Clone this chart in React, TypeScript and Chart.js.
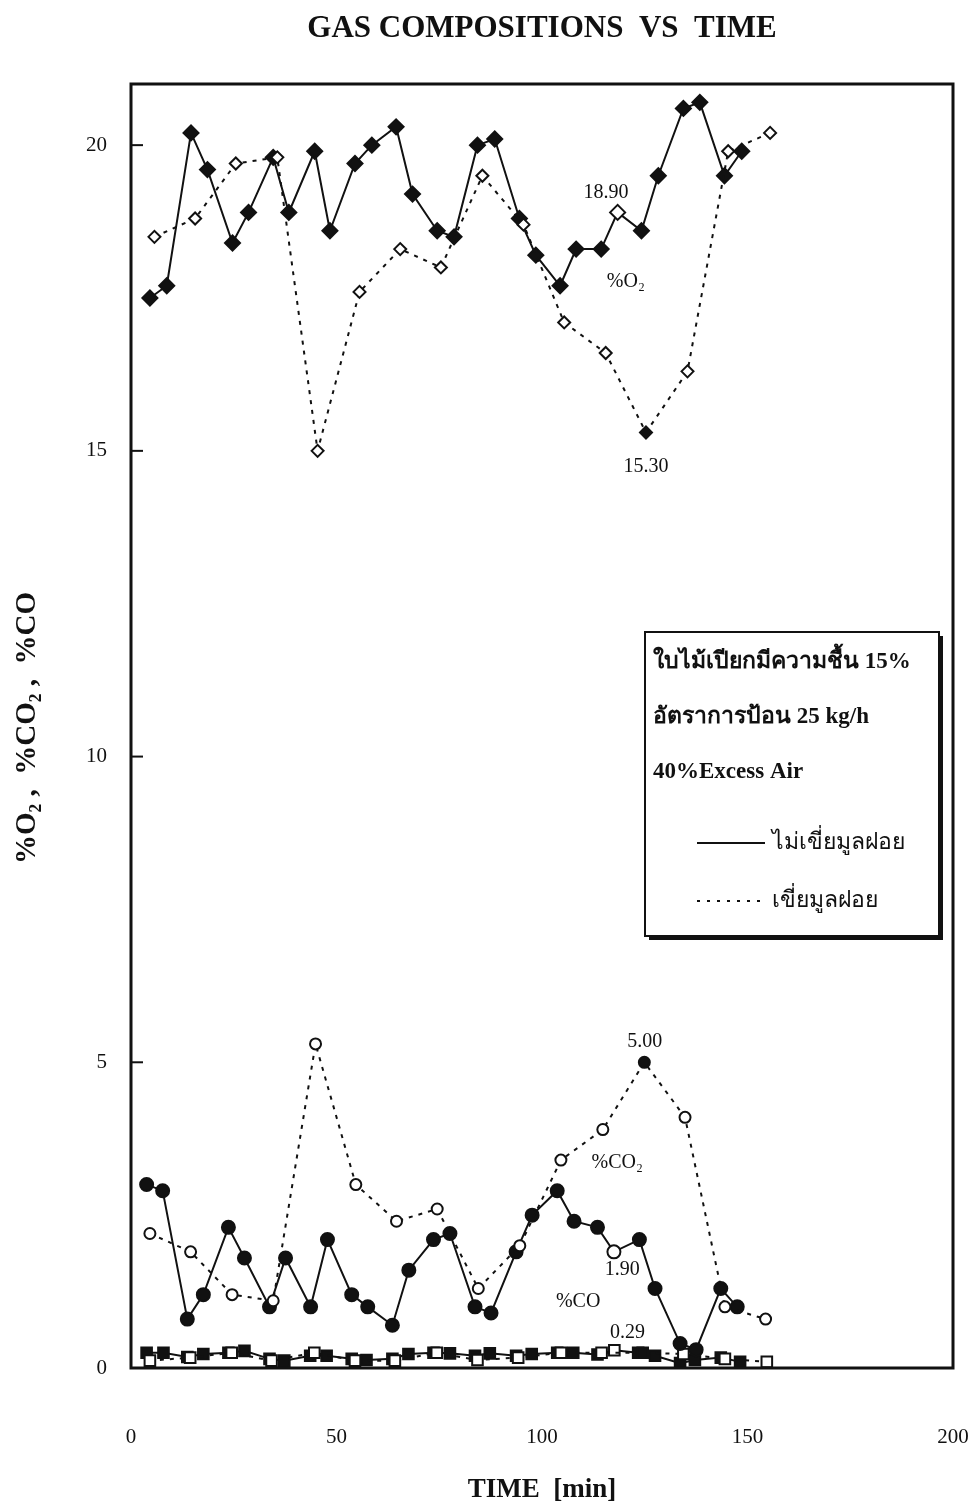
import React, { useEffect, useRef } from "react";
import { Chart, registerables } from "chart.js";

Chart.register(...registerables);

// ---------- data (time in min, composition in %) ----------
const xTicks = [0, 50, 100, 150, 200];
const yTicks = [0, 5, 10, 15, 20];

const o2SolidTime = [4.6, 8.7, 14.6, 18.6, 24.7, 28.6, 34.6, 38.4, 44.7, 48.4, 54.5, 58.6, 64.5, 68.5, 74.5, 78.6, 84.3, 88.5, 94.5, 98.5, 104.4, 108.3, 114.4, 118.4, 124.2, 128.3, 134.4, 138.4, 144.4, 148.6];
const o2Solid = [17.5, 17.7, 20.2, 19.6, 18.4, 18.9, 19.8, 18.9, 19.9, 18.6, 19.7, 20.0, 20.3, 19.2, 18.6, 18.5, 20.0, 20.1, 18.8, 18.2, 17.7, 18.3, 18.3, 18.9, 18.6, 19.5, 20.6, 20.7, 19.5, 19.9];

const o2DottedTime = [5.7, 15.6, 25.5, 35.6, 45.4, 55.6, 65.5, 75.4, 85.5, 95.5, 105.4, 115.5, 125.3, 135.4, 145.3, 155.5];
const o2Dotted = [18.5, 18.8, 19.7, 19.8, 15.0, 17.6, 18.3, 18.0, 19.5, 18.7, 17.1, 16.6, 15.3, 16.3, 19.9, 20.2];

const co2SolidTime = [3.8, 7.7, 13.7, 17.6, 23.7, 27.6, 33.7, 37.6, 43.7, 47.8, 53.7, 57.6, 63.6, 67.6, 73.6, 77.6, 83.7, 87.6, 93.7, 97.6, 103.7, 107.8, 113.5, 117.5, 123.7, 127.5, 133.6, 137.5, 143.5, 147.5];
const co2Solid = [3.0, 2.9, 0.8, 1.2, 2.3, 1.8, 1.0, 1.8, 1.0, 2.1, 1.2, 1.0, 0.7, 1.6, 2.1, 2.2, 1.0, 0.9, 1.9, 2.5, 2.9, 2.4, 2.3, 1.9, 2.1, 1.3, 0.4, 0.3, 1.3, 1.0];

const co2DottedTime = [4.6, 14.5, 24.6, 34.6, 44.9, 54.7, 64.6, 74.5, 84.5, 94.6, 104.6, 114.8, 124.9, 134.8, 144.5, 154.4];
const co2Dotted = [2.2, 1.9, 1.2, 1.1, 5.3, 3.0, 2.4, 2.6, 1.3, 2.0, 3.4, 3.9, 5.0, 4.1, 1.0, 0.8];

const coSolidTime = [3.8, 7.9, 13.7, 17.6, 23.7, 27.6, 33.7, 37.3, 43.6, 47.6, 53.7, 57.3, 63.6, 67.5, 73.6, 77.6, 83.7, 87.3, 93.7, 97.5, 103.7, 107.6, 113.5, 117.6, 123.4, 127.5, 133.6, 137.2, 143.5, 148.2];
const coSolid = [0.25, 0.25, 0.18, 0.23, 0.25, 0.28, 0.15, 0.12, 0.2, 0.2, 0.15, 0.13, 0.15, 0.23, 0.25, 0.24, 0.2, 0.24, 0.2, 0.23, 0.25, 0.25, 0.22, 0.29, 0.25, 0.2, 0.08, 0.13, 0.17, 0.1];

const coDottedTime = [4.6, 14.4, 24.5, 34.2, 44.6, 54.5, 64.2, 74.4, 84.3, 94.2, 104.6, 114.5, 124.5, 134.4, 144.5, 154.7];
const coDotted = [0.12, 0.17, 0.25, 0.12, 0.25, 0.12, 0.12, 0.25, 0.13, 0.17, 0.25, 0.25, 0.25, 0.23, 0.15, 0.1];

// highlighted points (marker fill swapped)
const solidHighlight = 23;
const dottedHighlight = 12;

// in-plot text labels: [text, time, value]
const noteText = ["18.90", "%O₂", "15.30", "5.00", "%CO₂", "1.90", "%CO", "0.29"];
const noteTime = [115.6, 120.4, 125.3, 125.0, 118.3, 119.5, 108.8, 120.8];
const noteValue = [19.22, 17.76, 14.74, 5.34, 3.35, 1.60, 1.08, 0.57];

const titleText = "GAS COMPOSITIONS  VS  TIME";
const xTitle = "TIME  [min]";
const yTitle = "%O₂ ,  %CO₂ ,  %CO";
const legendLines = ["ใบไม้เปียกมีความชื้น 15%", "อัตราการป้อน 25 kg/h", "40%Excess Air"];
const seriesNames = ["ไม่เขี่ยมูลฝอย", "เขี่ยมูลฝอย"];

const INK = "#111";
const SERIF = '"Liberation Serif", "Times New Roman", serif';

function pts(xs: number[], ys: number[]) {
  return xs.map((x, i) => ({ x, y: ys[i] }));
}
function fills(n: number, special: number, filled: boolean) {
  return Array.from({ length: n }, (_, i) => ((i === special) !== filled ? INK : "#fff"));
}

export default function App() {
  const ref = useRef<HTMLCanvasElement>(null);

  useEffect(() => {
    const canvas = ref.current!;

    const solid = (label: string, xs: number[], ys: number[], style: string, r: number) => ({
      label,
      data: pts(xs, ys),
      showLine: true,
      borderColor: INK,
      borderWidth: 2,
      tension: 0,
      pointStyle: style,
      pointRadius: r,
      pointBorderWidth: 2,
      pointBorderColor: INK,
      pointBackgroundColor: fills(xs.length, solidHighlight, true),
    });
    const dotted = (label: string, xs: number[], ys: number[], style: string, r: number) => ({
      label,
      data: pts(xs, ys),
      showLine: true,
      borderColor: INK,
      borderWidth: 2,
      borderDash: [4, 6],
      tension: 0,
      pointStyle: style,
      pointRadius: r,
      pointBorderWidth: 2,
      pointBorderColor: INK,
      pointBackgroundColor: fills(xs.length, dottedHighlight, false),
    });

    const decor = {
      id: "decor",
      afterDraw(chart: any) {
        const { ctx, chartArea: a, scales } = chart;
        const sx = scales.x;
        const sy = scales.y;
        ctx.save();
        // frame
        ctx.strokeStyle = INK;
        ctx.lineWidth = 3;
        ctx.strokeRect(a.left, a.top, a.right - a.left, a.bottom - a.top);
        // inner tick marks on the y axis
        ctx.lineWidth = 2;
        yTicks.forEach((v) => {
          if (v <= 0) return;
          const py = sy.getPixelForValue(v);
          ctx.beginPath();
          ctx.moveTo(a.left, py);
          ctx.lineTo(a.left + 12, py);
          ctx.stroke();
        });

        ctx.fillStyle = INK;
        const cx = (a.left + a.right) / 2;
        // title
        ctx.textAlign = "center";
        ctx.textBaseline = "middle";
        ctx.font = `bold 31px ${SERIF}`;
        ctx.fillText(titleText, cx, 29);
        // x title
        ctx.font = `bold 27px ${SERIF}`;
        ctx.fillText(xTitle, cx, 1490);
        // y title
        ctx.save();
        ctx.translate(28, 728);
        ctx.rotate(-Math.PI / 2);
        ctx.font = `bold 29px ${SERIF}`;
        ctx.fillText(yTitle, 0, 0);
        ctx.restore();

        // notes
        ctx.font = `20px ${SERIF}`;
        noteText.forEach((t, i) => {
          ctx.fillText(t, sx.getPixelForValue(noteTime[i]), sy.getPixelForValue(noteValue[i]));
        });

        // legend box
        const bx = 645, by = 632, bw = 294, bh = 304;
        ctx.fillStyle = INK;
        ctx.fillRect(bx + 4, by + 4, bw, bh);
        ctx.fillStyle = "#fff";
        ctx.fillRect(bx, by, bw, bh);
        ctx.lineWidth = 2;
        ctx.strokeStyle = INK;
        ctx.strokeRect(bx, by, bw, bh);

        ctx.fillStyle = INK;
        ctx.textAlign = "left";
        ctx.textBaseline = "middle";
        ctx.font = `bold 23px ${SERIF}`;
        const rows = [662, 717, 772];
        legendLines.forEach((t, i) => ctx.fillText(t, bx + 8, rows[i]));

        ctx.font = `23px ${SERIF}`;
        const ly = [843, 901];
        // solid sample
        ctx.lineWidth = 2;
        ctx.setLineDash([]);
        ctx.beginPath();
        ctx.moveTo(bx + 52, ly[0]);
        ctx.lineTo(bx + 120, ly[0]);
        ctx.stroke();
        // dotted sample
        ctx.setLineDash([3, 7]);
        ctx.beginPath();
        ctx.moveTo(bx + 52, ly[1]);
        ctx.lineTo(bx + 120, ly[1]);
        ctx.stroke();
        ctx.setLineDash([]);
        ctx.fillText(seriesNames[0], bx + 127, ly[0]);
        ctx.fillText(seriesNames[1], bx + 127, ly[1]);
        ctx.restore();
      },
    };

    const chart = new Chart(canvas, {
      type: "scatter",
      data: {
        datasets: [
          dotted("O2 (เขี่ยมูลฝอย)", o2DottedTime, o2Dotted, "rectRot", 6),
          solid("O2 (ไม่เขี่ยมูลฝอย)", o2SolidTime, o2Solid, "rectRot", 7.5),
          dotted("CO2 (เขี่ยมูลฝอย)", co2DottedTime, co2Dotted, "circle", 5.5),
          solid("CO2 (ไม่เขี่ยมูลฝอย)", co2SolidTime, co2Solid, "circle", 6.5),
          dotted("CO (เขี่ยมูลฝอย)", coDottedTime, coDotted, "rect", 7.5),
          solid("CO (ไม่เขี่ยมูลฝอย)", coSolidTime, coSolid, "rect", 7.5),
        ] as any,
      },
      options: {
        animation: false,
        responsive: false,
        devicePixelRatio: 1,
        layout: { padding: { top: 84, right: 20, left: 0, bottom: 0 } },
        plugins: {
          legend: { display: false },
          tooltip: { enabled: false },
          title: { display: false },
        },
        scales: {
          x: {
            type: "linear",
            min: 0,
            max: 200,
            afterBuildTicks: (s: any) => {
              s.ticks = xTicks.map((v) => ({ value: v }));
            },
            afterFit: (s: any) => {
              s.height = 136;
              s.paddingLeft = 0;
              s.paddingRight = 0;
            },
            grid: { display: false, drawTicks: false },
            border: { display: false },
            ticks: {
              padding: 57,
              color: INK,
              font: { family: SERIF, size: 21 },
              maxRotation: 0,
            },
          },
          y: {
            type: "linear",
            min: 0,
            max: 21,
            afterBuildTicks: (s: any) => {
              s.ticks = yTicks.map((v) => ({ value: v }));
            },
            afterFit: (s: any) => {
              s.width = 131;
              s.paddingTop = 0;
              s.paddingBottom = 0;
            },
            grid: { display: false, drawTicks: false },
            border: { display: false },
            ticks: {
              padding: 24,
              color: INK,
              font: { family: SERIF, size: 21 },
            },
          },
        },
      } as any,
      plugins: [decor],
    });

    return () => chart.destroy();
  }, []);

  return (
    <div style={{ position: "absolute", left: 0, top: 0, width: 973, height: 1504, background: "#fff" }}>
      <canvas ref={ref} width={973} height={1504} style={{ display: "block" }} />
    </div>
  );
}
